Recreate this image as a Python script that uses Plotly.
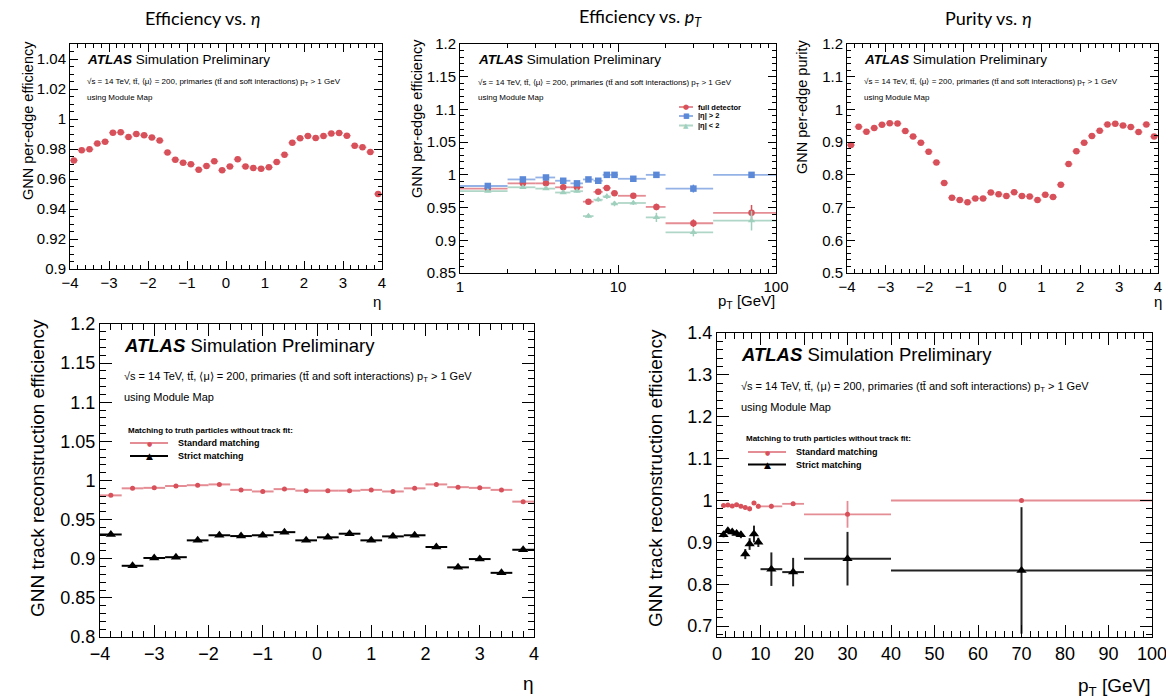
import plotly.graph_objects as go

W, H = 1166, 699

# ---------------- data ----------------
eta40 = [-3.9, -3.7, -3.5, -3.3, -3.1, -2.9, -2.7, -2.5, -2.3, -2.1,
         -1.9, -1.7, -1.5, -1.3, -1.1, -0.9, -0.7, -0.5, -0.3, -0.1,
         0.1, 0.3, 0.5, 0.7, 0.9, 1.1, 1.3, 1.5, 1.7, 1.9,
         2.1, 2.3, 2.5, 2.7, 2.9, 3.1, 3.3, 3.5, 3.7, 3.9]
eta40_halfwidth = 0.1

edge_eff_eta = [0.9724, 0.9791, 0.9798, 0.9836, 0.9849, 0.9909, 0.9911, 0.9880, 0.9900, 0.9891,
                0.9876, 0.9856, 0.9776, 0.9729, 0.9709, 0.9698, 0.9662, 0.9687, 0.9718, 0.9658,
                0.9684, 0.9731, 0.9684, 0.9673, 0.9669, 0.9678, 0.9713, 0.9762, 0.9842, 0.9871,
                0.9887, 0.9873, 0.9887, 0.9904, 0.9907, 0.9889, 0.9822, 0.9811, 0.9780, 0.9500]

edge_pur_eta = [0.891, 0.947, 0.932, 0.943, 0.953, 0.958, 0.957, 0.934, 0.917, 0.898,
                0.871, 0.838, 0.775, 0.730, 0.723, 0.716, 0.728, 0.728, 0.746, 0.741,
                0.735, 0.747, 0.735, 0.734, 0.723, 0.739, 0.732, 0.770, 0.833, 0.872,
                0.898, 0.919, 0.935, 0.954, 0.956, 0.951, 0.946, 0.931, 0.954, 0.917]

pt_centers = [1.5, 2.5, 3.5, 4.5, 5.5, 6.5, 7.5, 8.5, 9.5, 12.5, 17.5, 30, 70]
pt_low = [1, 2, 3, 4, 5, 6, 7, 8, 9, 10, 15, 20, 40]
pt_high = [2, 3, 4, 5, 6, 7, 8, 9, 10, 15, 20, 40, 100]

edge_eff_pt_full = [0.979, 0.987, 0.987, 0.981, 0.981, 0.959, 0.974, 0.980, 0.972, 0.968, 0.951, 0.926, 0.942]
edge_eff_pt_full_err = [0.001, 0.001, 0.001, 0.001, 0.001, 0.002, 0.002, 0.002, 0.003, 0.002, 0.005, 0.006, 0.012]
edge_eff_pt_fwd = [0.983, 0.993, 0.996, 0.991, 0.987, 0.993, 0.991, 1.000, 1.000, 0.994, 1.000, 0.979, 1.000]
edge_eff_pt_fwd_err = [0.001, 0.001, 0.001, 0.001, 0.001, 0.002, 0.002, 0.001, 0.001, 0.002, 0.001, 0.006, 0.001]
edge_eff_pt_cen = [0.975, 0.981, 0.979, 0.973, 0.975, 0.937, 0.962, 0.967, 0.956, 0.957, 0.935, 0.912, 0.930]
edge_eff_pt_cen_err = [0.001, 0.001, 0.001, 0.002, 0.002, 0.003, 0.003, 0.004, 0.004, 0.003, 0.007, 0.006, 0.015]

eta20 = [-3.8, -3.4, -3.0, -2.6, -2.2, -1.8, -1.4, -1.0, -0.6, -0.2,
         0.2, 0.6, 1.0, 1.4, 1.8, 2.2, 2.6, 3.0, 3.4, 3.8]
eta20_halfwidth = 0.2

trk_eff_eta_std = [0.981, 0.990, 0.9906, 0.993, 0.994, 0.995, 0.988, 0.986, 0.989, 0.987,
                   0.987, 0.987, 0.988, 0.986, 0.990, 0.995, 0.9915, 0.9906, 0.988, 0.973]
trk_eff_eta_strict = [0.931, 0.891, 0.901, 0.902, 0.9235, 0.930, 0.929, 0.930, 0.934, 0.9235,
                      0.9274, 0.932, 0.9235, 0.9286, 0.930, 0.915, 0.889, 0.8996, 0.882, 0.9115]

trk_eff_pt_std = [0.988, 0.989, 0.987, 0.990, 0.986, 0.983, 0.980, 0.994, 0.986, 0.986, 0.992, 0.967, 1.000]
trk_eff_pt_std_err = [0.003, 0.003, 0.003, 0.003, 0.004, 0.005, 0.006, 0.005, 0.006, 0.006, 0.005, 0.032, 0.0]
trk_eff_pt_strict = [0.918, 0.9275, 0.925, 0.921, 0.918, 0.872, 0.896, 0.920, 0.900, 0.836, 0.829, 0.861, 0.833]
trk_eff_pt_strict_err = [0.006, 0.006, 0.006, 0.007, 0.008, 0.012, 0.014, 0.020, 0.011, 0.040, 0.034, 0.064, 0.151]

legend_edge_pt = ["full detector", "|η| > 2", "|η| < 2"]
legend_track = ["Standard matching", "Strict matching"]
legend_track_title = "Matching to truth particles without track fit:"

# ---------------- style ----------------
RED = "#d7505a"
RED_BAR = "rgba(215,80,90,0.65)"
BLUE = "#5c88d8"
BLUE_BAR = "rgba(92,136,216,0.65)"
GREEN = "#9fd0bd"
GREEN_BAR = "rgba(150,200,180,0.75)"
BLACK = "#000000"
FONT = "Liberation Sans"


def px(x):
    return x / W


def py(y):
    return 1 - y / H


fig = go.Figure()

pt_minus = [c - lo for c, lo in zip(pt_centers, pt_low)]
pt_plus = [hi - c for c, hi in zip(pt_centers, pt_high)]

# Panel 1: edge efficiency vs eta
fig.add_trace(go.Scatter(
    x=eta40, y=edge_eff_eta, mode="markers", xaxis="x", yaxis="y",
    marker=dict(color=RED, size=6.5, symbol="circle"),
    error_x=dict(type="constant", value=eta40_halfwidth, color=RED_BAR, thickness=1.5, width=0),
    error_y=dict(type="constant", value=0.0007, color=RED, thickness=1.2, width=0),
    showlegend=False))

# Panel 2: edge efficiency vs pT
for vals, errs, col, bar, sym in [
        (edge_eff_pt_full, edge_eff_pt_full_err, RED, RED_BAR, "circle"),
        (edge_eff_pt_fwd, edge_eff_pt_fwd_err, BLUE, BLUE_BAR, "square"),
        (edge_eff_pt_cen, edge_eff_pt_cen_err, GREEN, GREEN_BAR, "triangle-up")]:
    fig.add_trace(go.Scatter(
        x=pt_centers, y=vals, mode="markers", xaxis="x2", yaxis="y2",
        marker=dict(color=col, size=6.5, symbol=sym),
        error_x=dict(type="data", symmetric=False, array=pt_plus, arrayminus=pt_minus,
                     color=bar, thickness=1.8, width=0),
        error_y=dict(type="data", array=errs, color=col, thickness=1.5, width=0),
        showlegend=False))

# Panel 3: purity vs eta
fig.add_trace(go.Scatter(
    x=eta40, y=edge_pur_eta, mode="markers", xaxis="x3", yaxis="y3",
    marker=dict(color=RED, size=6.5, symbol="circle"),
    error_x=dict(type="constant", value=eta40_halfwidth, color=RED_BAR, thickness=1.5, width=0),
    error_y=dict(type="constant", value=0.002, color=RED, thickness=1.2, width=0),
    showlegend=False))

# Panel 4: track efficiency vs eta
fig.add_trace(go.Scatter(
    x=eta20, y=trk_eff_eta_std, mode="markers", xaxis="x4", yaxis="y4",
    marker=dict(color=RED, size=5, symbol="circle"),
    error_x=dict(type="constant", value=eta20_halfwidth, color=RED_BAR, thickness=2, width=0),
    error_y=dict(type="constant", value=0.0015, color=RED, thickness=1.5, width=0),
    showlegend=False))
fig.add_trace(go.Scatter(
    x=eta20, y=trk_eff_eta_strict, mode="markers", xaxis="x4", yaxis="y4",
    marker=dict(color=BLACK, size=9, symbol="triangle-up"),
    error_x=dict(type="constant", value=eta20_halfwidth, color=BLACK, thickness=2, width=0),
    error_y=dict(type="constant", value=0.0015, color=BLACK, thickness=1.5, width=0),
    showlegend=False))

# Panel 5: track efficiency vs pT
fig.add_trace(go.Scatter(
    x=pt_centers, y=trk_eff_pt_std, mode="markers", xaxis="x5", yaxis="y5",
    marker=dict(color=RED, size=5, symbol="circle"),
    error_x=dict(type="data", symmetric=False, array=pt_plus, arrayminus=pt_minus,
                 color=RED_BAR, thickness=1.8, width=0),
    error_y=dict(type="data", array=trk_eff_pt_std_err, color=RED_BAR, thickness=1.8, width=0),
    showlegend=False))
fig.add_trace(go.Scatter(
    x=pt_centers, y=trk_eff_pt_strict, mode="markers", xaxis="x5", yaxis="y5",
    marker=dict(color=BLACK, size=9, symbol="triangle-up"),
    error_x=dict(type="data", symmetric=False, array=pt_plus, arrayminus=pt_minus,
                 color="#222222", thickness=2, width=0),
    error_y=dict(type="data", array=trk_eff_pt_strict_err, color="#222222", thickness=2, width=0),
    showlegend=False))


def axis(dom, rng, fs, major_len, minor_len, anchor, dtick=None, tick0=None,
         minor_dtick=None, typ="linear", tickvals=None, ticktext=None, minor_vals=None):
    d = dict(domain=dom, range=rng, type=typ, anchor=anchor, automargin=False,
             ticklabeloverflow="allow",
             showline=True, linecolor="black", linewidth=1, mirror="allticks",
             ticks="inside", ticklen=major_len, tickwidth=1, tickcolor="black",
             showgrid=False, zeroline=False,
             tickfont=dict(family=FONT, size=fs, color="black"))
    if tickvals is not None:
        d["tickmode"] = "array"
        d["tickvals"] = tickvals
        d["ticktext"] = ticktext
    else:
        d["dtick"] = dtick
        d["tick0"] = tick0
    if minor_vals is not None:
        d["minor"] = dict(tickmode="array", tickvals=minor_vals, ticks="inside",
                          ticklen=minor_len, tickcolor="black", showgrid=False)
    elif minor_dtick is not None:
        d["minor"] = dict(dtick=minor_dtick, ticks="inside", ticklen=minor_len,
                          tickcolor="black", showgrid=False)
    return d


log_minor = [2, 3, 4, 5, 6, 7, 8, 9, 20, 30, 40, 50, 60, 70, 80, 90]

layout = dict(
    width=W, height=H, margin=dict(l=0, r=0, t=0, b=0, autoexpand=False),
    paper_bgcolor="white", plot_bgcolor="white", showlegend=False,
    font=dict(family=FONT, color="black"),
    xaxis=axis([px(70), px(382)], [-4, 4], 15, 8, 4, "y", dtick=1, tick0=0, minor_dtick=0.2),
    yaxis=axis([py(269), py(44)], [0.9, 1.05], 15, 8, 4, "x", dtick=0.02, tick0=0.9, minor_dtick=0.005),
    xaxis2=axis([px(460), px(776)], [0, 2], 15, 8, 4, "y2", typ="log",
                tickvals=[1, 10, 100], ticktext=["1", "10", "100"], minor_vals=log_minor),
    yaxis2=axis([py(273), py(44)], [0.85, 1.2], 15, 8, 4, "x2", dtick=0.05, tick0=0.85, minor_dtick=0.01),
    xaxis3=axis([px(847), px(1158)], [-4, 4], 15, 8, 4, "y3", dtick=1, tick0=0, minor_dtick=0.2),
    yaxis3=axis([py(273), py(44)], [0.5, 1.2], 15, 8, 4, "x3", dtick=0.1, tick0=0.5, minor_dtick=0.02),
    xaxis4=axis([px(100), px(534)], [-4, 4], 18, 12, 6, "y4", dtick=1, tick0=0, minor_dtick=0.2),
    yaxis4=axis([py(637), py(324)], [0.8, 1.2], 18, 12, 6, "x4", dtick=0.05, tick0=0.8, minor_dtick=0.01),
    xaxis5=axis([px(717), px(1152)], [0, 100], 18, 12, 6, "y5", dtick=10, tick0=0, minor_dtick=2),
    yaxis5=axis([py(637), py(333)], [0.674, 1.4], 18, 12, 6, "x5", dtick=0.1, tick0=0.7, minor_dtick=0.02),
)
fig.update_layout(**layout)

ann = []
shapes = []


def text(x, y, s, size, xanchor="left", yanchor="middle", angle=0, family=FONT, color="black"):
    ann.append(dict(x=px(x), y=py(y), xref="paper", yref="paper", text=s, showarrow=False,
                    xanchor=xanchor, yanchor=yanchor, textangle=angle, borderpad=0,
                    font=dict(family=family, size=size, color=color)))


def legend_row(x0, x1, y, color, line_color, glyph, gsize, label, fsize, tx):
    shapes.append(dict(type="line", xref="paper", yref="paper", x0=px(x0), x1=px(x1),
                       y0=py(y), y1=py(y), line=dict(color=line_color, width=2)))
    text((x0 + x1) / 2, y, glyph, gsize, xanchor="center", color=color, family="DejaVu Sans")
    text(tx, y, "<b>" + label + "</b>", fsize)


TT = "tt\u0304"
SUB = "\u221as = 14 TeV, " + TT + ", \u27e8\u03bc\u27e9 = 200, primaries (" + TT + " and soft interactions) p<sub>T</sub> > 1 GeV"
ATL = "<b><i>ATLAS</i></b> Simulation Preliminary"

# panel titles
text(203, 18, "Efficiency vs. <i>η</i>", 18, xanchor="center", family="Lato")
text(640, 18, "Efficiency vs. <i>p<sub>T</sub></i>", 18, xanchor="center", family="Lato")
text(988, 18, "Purity vs. <i>η</i>", 18, xanchor="center", family="Lato")

# ATLAS labels
for x0, ya, ys, yu, s1, s2 in [(86, 60, 82, 97, 13.5, 8), (477, 60, 83, 97, 13.5, 8), (863, 60, 82, 97, 13.5, 8),
                               (123, 345, 377, 397, 18.5, 11), (740, 354, 387, 407, 18.5, 11)]:
    text(x0, ya, ATL, s1)
    text(x0, ys, SUB, s2)
    text(x0, yu, "using Module Map", s2)

# legends
legend_row(679, 693, 107, RED, RED_BAR, "●", 7, legend_edge_pt[0], 7.5, 697)
legend_row(679, 693, 116, BLUE, BLUE_BAR, "■", 7, legend_edge_pt[1], 7.5, 697)
legend_row(679, 693, 125.5, GREEN, GREEN_BAR, "▲", 7, legend_edge_pt[2], 7.5, 697)

text(127, 430, "<b>" + legend_track_title + "</b>", 8)
legend_row(130, 168, 443, RED, RED_BAR, "●", 6, legend_track[0], 9, 177)
legend_row(130, 168, 456, BLACK, BLACK, "▲", 9, legend_track[1], 9, 177)

text(745, 438, "<b>" + legend_track_title + "</b>", 8)
legend_row(748, 786, 452, RED, RED_BAR, "●", 6, legend_track[0], 9, 795)
legend_row(748, 786, 464.5, BLACK, BLACK, "▲", 9, legend_track[1], 9, 795)

# axis titles
text(28, 121, "GNN per-edge efficiency", 14.5, xanchor="center", angle=-90)
text(417, 119, "GNN per-edge efficiency", 14.5, xanchor="center", angle=-90)
text(802, 107, "GNN per-edge purity", 14.5, xanchor="center", angle=-90)
text(37, 468, "GNN track reconstruction efficiency", 19, xanchor="center", angle=-90)
text(655, 478, "GNN track reconstruction efficiency", 19, xanchor="center", angle=-90)
text(377, 301, "η", 15, xanchor="center")
text(776, 301, "p<sub>T</sub> [GeV]", 15, xanchor="right")
text(1158, 301, "η", 15, xanchor="center")
text(528, 683, "η", 19, xanchor="center")
text(1152, 687, "p<sub>T</sub> [GeV]", 19, xanchor="right")

fig.update_layout(annotations=ann, shapes=shapes)
fig.write_html("out.html")
